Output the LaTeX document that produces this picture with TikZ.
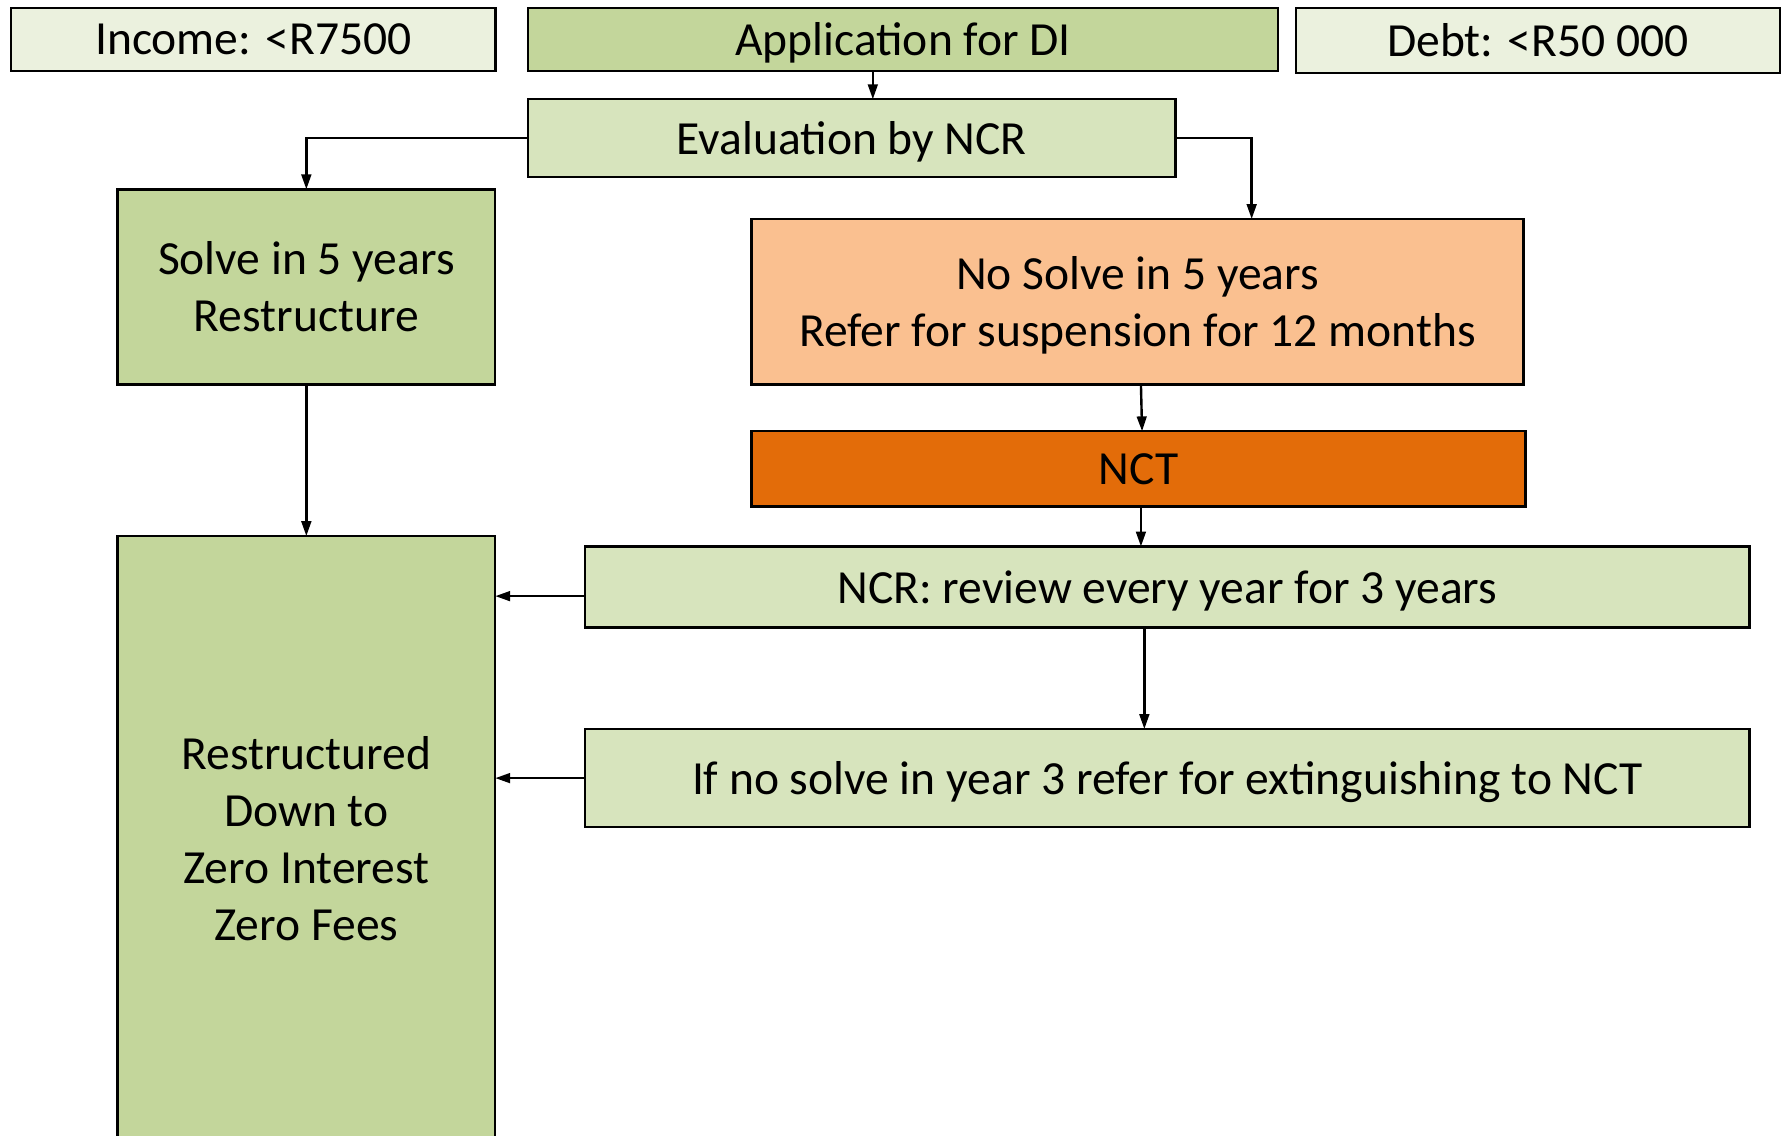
\documentclass[tikz,border=0pt]{standalone}
\usepackage{fontspec}
\setmainfont{Carlito}
\usepackage{xcolor}
\usetikzlibrary{arrows.meta}
\definecolor{palegreen}{HTML}{EBF1DE}
\definecolor{midgreen}{HTML}{C3D69B}
\definecolor{lightgreen}{HTML}{D7E4BD}
\definecolor{peach}{HTML}{FAC090}
\definecolor{burnt}{HTML}{E36C09}

\begin{document}
\begin{tikzpicture}[
  x=0.01cm, y=-0.01cm,
  box/.style={rectangle, draw, line width=0.6pt, inner sep=0pt, outer sep=0pt,
    font=\fontsize{11.85}{14.2}\selectfont, align=center, text depth=0pt},
  arr/.style={line width=0.6pt, -{Triangle[length=1.3mm, width=0.85mm]}},
]
  \clip (0,0) rectangle (1568,995);

  \node[box, fill=palegreen, minimum width=4.24cm, minimum height=0.55cm] (income) at (222,34.5)
    {Income: <R7500};
  \node[box, fill=midgreen, minimum width=6.57cm, minimum height=0.55cm] (app) at (791.5,34.5)
    {Application for DI};
  \node[box, fill=palegreen, minimum width=4.24cm, minimum height=0.57cm] (debt) at (1348,35.5)
    {Debt: <R50 000};
  \node[box, fill=lightgreen, minimum width=5.67cm, minimum height=0.68cm] (eval) at (746.5,121)
    {Evaluation by NCR};
  \node[box, fill=midgreen, minimum width=3.31cm, minimum height=1.71cm] (solve) at (268.5,251.5)
    {Solve in 5 years\\Restructure};
  \node[box, fill=peach, minimum width=6.76cm, minimum height=1.45cm] (nosolve) at (997,264.5)
    {No Solve in 5 years\\Refer for suspension for 12 months};
  \node[box, fill=burnt, minimum width=6.78cm, minimum height=0.66cm] (nct) at (998,411)
    {NCT};
  \node[box, fill=lightgreen, minimum width=10.2cm, minimum height=0.71cm] (review) at (1023,514.5)
    {NCR: review every year for 3 years};
  \node[box, fill=lightgreen, minimum width=10.2cm, minimum height=0.86cm] (ifno) at (1023,682)
    {If no solve in year 3 refer for extinguishing to NCT};
  \node[box, fill=midgreen, minimum width=3.31cm, minimum height=5.3cm] (restr) at (268.5,735)
    {Restructured\\Down to\\Zero Interest\\Zero Fees};

  % connectors
  \draw[arr] ([xshift=0.185cm]eval.north |- app.south) -- ([xshift=0.185cm]eval.north);
  \draw[arr] (eval.west) -| (solve.north);
  \draw[arr] (eval.east) -| ([xshift=1cm]nosolve.north);
  \draw[arr] ([xshift=0.03cm]nosolve.south) -- ([xshift=0.03cm]nct.north);
  \draw[arr] ([xshift=0.02cm]nct.south) -- ([xshift=0.02cm]nct.south |- review.north);
  \draw[arr] (solve.south) -- (restr.north);
  \draw[arr] ([yshift=-0.08cm]review.west) coordinate (r1) -- (r1 -| restr.east);
  \draw[arr] ([xshift=-0.2cm]review.south) -- ([xshift=-0.2cm]ifno.north);
  \draw[arr] (ifno.west) -- (ifno.west -| restr.east);
\end{tikzpicture}
\end{document}
